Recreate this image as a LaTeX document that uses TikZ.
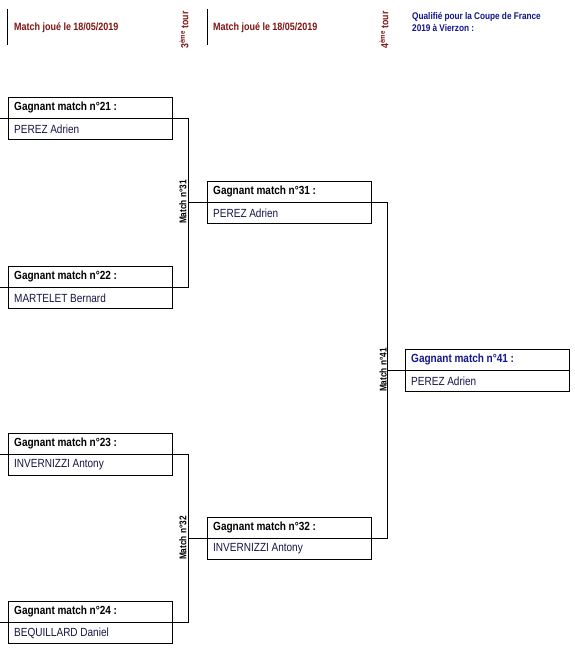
\documentclass[tikz,border=0pt]{standalone}
\usepackage{fontspec}
\setmainfont{Liberation Sans}[FakeStretch=0.85,WordSpace=0.95]
\definecolor{dred}{RGB}{128,20,20}
\definecolor{dblue}{RGB}{20,20,140}
\definecolor{nm}{RGB}{20,20,70}
\begin{document}
\begin{tikzpicture}[x=1pt,y=-1pt,
  cell/.style={draw,line width=0.8pt,minimum width=164pt,minimum height=21pt,anchor=north west,inner sep=0pt},
  hdrtxt/.style={anchor=west,inner sep=0pt,xshift=6pt,font=\bfseries\fontsize{11.8}{12}\selectfont},
  nmtxt/.style={anchor=west,inner sep=0pt,xshift=6pt,font=\fontsize{11.8}{12}\selectfont,text=nm},
  conn/.style={line width=0.8pt},
  vlab/.style={rotate=90,font=\bfseries\fontsize{9.8}{10}\selectfont,inner sep=0pt},
  toplab/.style={anchor=west,font=\bfseries\fontsize{10.6}{11}\selectfont,text=dred,inner sep=0pt}]
\useasboundingbox (0,0) rectangle (575,650);
% header
\coordinate (t1a) at (7,9); \coordinate (t1b) at (7,45);
\coordinate (t2a) at (207,9); \coordinate (t2b) at (207,45);
\draw[conn] (t1a) -- (t1b);
\draw[conn] (t2a) -- (t2b);
\node[toplab] (d1) at (14,28) {Match joué le 18/05/2019};
\node[toplab] (d2) at (213,28) {Match joué le 18/05/2019};
\node[vlab,text=dred,font=\bfseries\fontsize{10.3}{11}\selectfont] (r3) at (184,30) {3\textsuperscript{ème} tour};
\node[vlab,text=dred,font=\bfseries\fontsize{10.3}{11}\selectfont] (r4) at (384,30) {4\textsuperscript{ème} tour};
\node[anchor=north west,inner sep=0pt,align=left,text=dblue,font=\bfseries\fontsize{9.7}{12}\selectfont] (q) at (412,12) {Qualifié pour la Coupe de France\\2019 à Vierzon :};
% first column
\node[cell] (h21) at (8,97) {}; \node[hdrtxt] (th21) at (h21.west) {Gagnant match n°21 :};
\node[cell] (n21) at (8,118) {}; \node[nmtxt] (tn21) at (n21.west) {PEREZ Adrien};
\node[cell] (h22) at (8,266) {}; \node[hdrtxt] (th22) at (h22.west) {Gagnant match n°22 :};
\node[cell] (n22) at (8,287) {}; \node[nmtxt] (tn22) at (n22.west) {MARTELET Bernard};
\node[cell] (h23) at (8,433) {}; \node[hdrtxt] (th23) at (h23.west) {Gagnant match n°23 :};
\node[cell] (n23) at (8,454) {}; \node[nmtxt] (tn23) at (n23.west) {INVERNIZZI Antony};
\node[cell] (h24) at (8,601) {}; \node[hdrtxt] (th24) at (h24.west) {Gagnant match n°24 :};
\node[cell] (n24) at (8,622) {}; \node[nmtxt] (tn24) at (n24.west) {BEQUILLARD Daniel};
% second column
\node[cell] (h31) at (207,181) {}; \node[hdrtxt] (th31) at (h31.west) {Gagnant match n°31 :};
\node[cell] (n31) at (207,202) {}; \node[nmtxt] (tn31) at (n31.west) {PEREZ Adrien};
\node[cell] (h32) at (207,517) {}; \node[hdrtxt] (th32) at (h32.west) {Gagnant match n°32 :};
\node[cell] (n32) at (207,538) {}; \node[nmtxt] (tn32) at (n32.west) {INVERNIZZI Antony};
% third column
\node[cell] (h41) at (405,349) {}; \node[hdrtxt,text=dblue] (th41) at (h41.west) {Gagnant match n°41 :};
\node[cell] (n41) at (405,370) {}; \node[nmtxt] (tn41) at (n41.west) {PEREZ Adrien};
% connectors
\coordinate (l21) at (0,118); \coordinate (l22) at (0,287);
\coordinate (l23) at (0,454); \coordinate (l24) at (0,622);
\coordinate (v1a) at (188,118); \coordinate (v1b) at (188,287);
\coordinate (v2a) at (188,454); \coordinate (v2b) at (188,622);
\coordinate (v3a) at (387,202); \coordinate (v3b) at (387,538);
\draw[conn] (l21) -- (v1a) -- (v1b) -- (l22);
\draw[conn] (l23) -- (v2a) -- (v2b) -- (l24);
\draw[conn] (n31.north west -| v1a) -- (v3a) -- (v3b) -- (n32.north west -| v2a);
\draw[conn] (387,370) -- (n41.north west);
\node[vlab] (m31) at (183,202) {Match n°31};
\node[vlab] (m32) at (183,538) {Match n°32};
\node[vlab] (m41) at (383,370) {Match n°41};
\end{tikzpicture}
\end{document}
